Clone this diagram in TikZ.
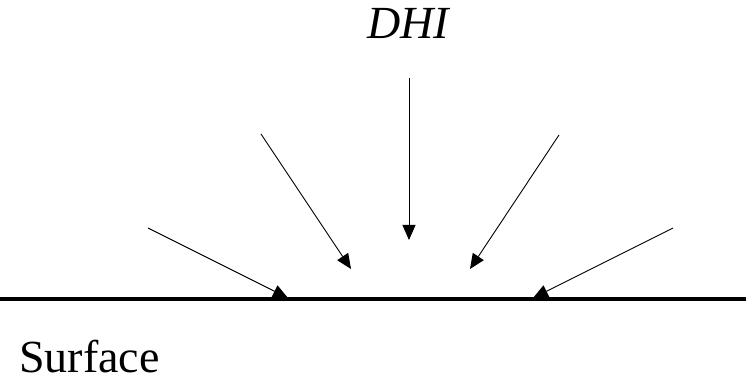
\documentclass[tikz,border=0pt]{standalone}
\usepackage{fontspec}
\setmainfont{Liberation Serif}
\usetikzlibrary{arrows.meta}
\begin{document}
\begin{tikzpicture}[x=1pt,y=-1pt,
  ray/.style={line width=0.9pt,-{Triangle[length=15pt,width=13pt]}},
  lbl/.style={inner sep=0pt,font=\fontsize{46}{50}\selectfont}]
\useasboundingbox (0,0) rectangle (746,379);
\coordinate (s1) at (148,228); \coordinate (t1) at (288,298);
\coordinate (s2) at (261,134); \coordinate (t2) at (351,269);
\coordinate (s3) at (409,78);  \coordinate (t3) at (409,240);
\coordinate (s4) at (559,135); \coordinate (t4) at (470,269);
\coordinate (s5) at (673,228); \coordinate (t5) at (533,298);
\draw[ray] (s1) -- (t1);
\draw[ray] (s2) -- (t2);
\draw[ray] (s3) -- (t3);
\draw[ray] (s4) -- (t4);
\draw[ray] (s5) -- (t5);
\coordinate (gl) at (0,299); \coordinate (gr) at (746,299);
\fill[white] (0,300.8) rectangle (746,320);
\draw[line width=3.6pt] (gl) -- (gr);
\node[lbl,anchor=base] (dhi) at (409,39) {\textit{DHI}};
\node[lbl,anchor=base west,text depth=0pt] (surf) at (19,372) {Surface};
\end{tikzpicture}
\end{document}
